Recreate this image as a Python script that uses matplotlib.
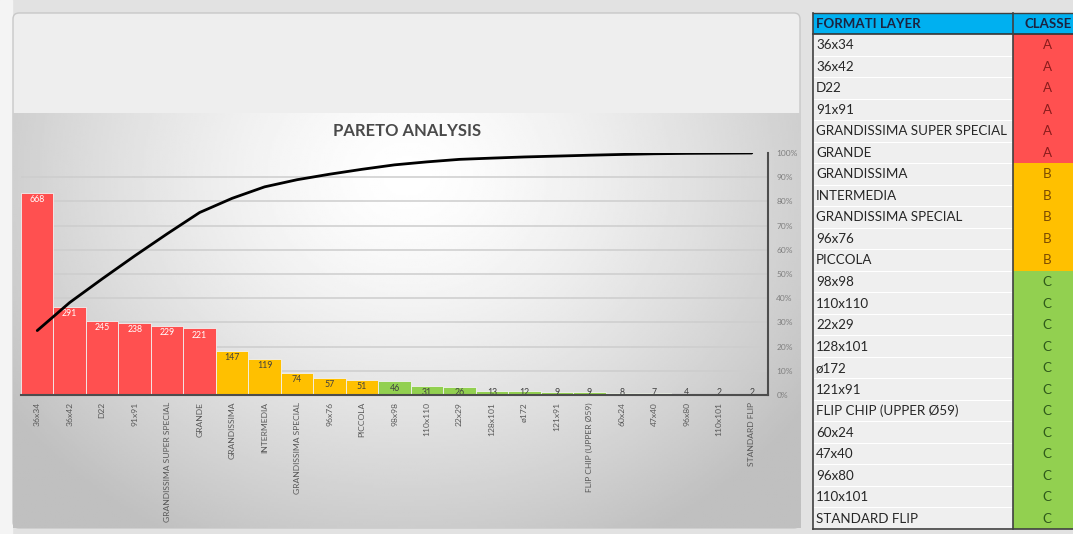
import numpy as np
import matplotlib
matplotlib.use("Agg")
import matplotlib.pyplot as plt
from matplotlib.patches import Rectangle, FancyBboxPatch

plt.rcParams['font.family'] = ['Lato', 'DejaVu Sans']

# ---- dati ----
formati = ["36x34", "36x42", "D22", "91x91", "GRANDISSIMA SUPER SPECIAL", "GRANDE",
           "GRANDISSIMA", "INTERMEDIA", "GRANDISSIMA SPECIAL", "96x76", "PICCOLA",
           "98x98", "110x110", "22x29", "128x101", "ø172", "121x91",
           "FLIP CHIP (UPPER Ø59)", "60x24", "47x40", "96x80", "110x101", "STANDARD FLIP"]
quantita = [668, 291, 245, 238, 229, 221, 147, 119, 74, 57, 51,
            46, 31, 26, 13, 12, 9, 9, 8, 7, 4, 2, 2]
classe = ["A", "A", "A", "A", "A", "A", "B", "B", "B", "B", "B",
          "C", "C", "C", "C", "C", "C", "C", "C", "C", "C", "C", "C"]

colori_classe = {"A": "#ff5050", "B": "#ffc000", "C": "#92d050"}
testo_classe = {"A": "#8a1c1c", "B": "#7a4a00", "C": "#2f5a1a"}
testo_barre = {"A": "white", "B": "#404040", "C": "#404040"}

W, H = 1073, 534

def px(x0, y0, x1, y1):
    return [x0 / W, 1 - y1 / H, (x1 - x0) / W, (y1 - y0) / H]

fig = plt.figure(figsize=(W / 100, H / 100), dpi=100, facecolor="#e2e2e2")

# sfondo generale (pannello + tabella) in coordinate pixel
bg = fig.add_axes([0, 0, 1, 1])
bg.set_xlim(0, W)
bg.set_ylim(H, 0)
bg.axis("off")
bg.add_patch(Rectangle((0, 0), 12, H, color="#f4f4f4", zorder=0))
bg.add_patch(FancyBboxPatch((13, 13), 787, 515, boxstyle="round,pad=0,rounding_size=6",
                            facecolor="#eeeeee", edgecolor="#c8c8c8", lw=1, zorder=1))

# ---- tabella classi ----
tx0, tx1, tx2 = 813, 1013, 1085
ty0, th_head = 13, 21
row_h = (529 - (ty0 + th_head)) / len(formati)
bg.add_patch(Rectangle((tx0, ty0), tx1 - tx0, th_head, facecolor="#00b0f0", edgecolor="none", zorder=2))
bg.add_patch(Rectangle((tx1, ty0), tx2 - tx1, th_head, facecolor="#00b0f0", edgecolor="none", zorder=2))
bg.text(tx0 + 3, ty0 + th_head / 2, "FORMATI LAYER", fontsize=9.5, fontweight="bold",
        color="#1c2340", va="center", ha="left", zorder=3)
bg.text(1048, ty0 + th_head / 2, "CLASSE", fontsize=9.5, fontweight="bold",
        color="#1c2340", va="center", ha="center", zorder=3)
for i, (nome, c) in enumerate(zip(formati, classe)):
    y = ty0 + th_head + i * row_h
    bg.add_patch(Rectangle((tx0, y), tx1 - tx0, row_h, facecolor="#efefef",
                           edgecolor="#ffffff", lw=0.8, zorder=2))
    bg.add_patch(Rectangle((tx1, y), tx2 - tx1, row_h, facecolor=colori_classe[c],
                           edgecolor="none", zorder=2))
    bg.text(tx0 + 3, y + row_h / 2 + 0.5, nome, fontsize=9.6, color="#262626",
            va="center", ha="left", zorder=3)
    bg.text(1047, y + row_h / 2 + 0.5, c, fontsize=9.6, color=testo_classe[c],
            va="center", ha="center", zorder=3)
bg.plot([tx0, tx2], [ty0 + th_head, ty0 + th_head], color="#333333", lw=1.2, zorder=4)
bg.plot([tx0, tx0], [ty0, 529], color="#404040", lw=1.2, zorder=4)
bg.plot([tx1, tx1], [ty0, 529], color="#404040", lw=1.2, zorder=4)
bg.plot([tx0, tx2], [529, 529], color="#404040", lw=1.2, zorder=4)
bg.plot([tx0, tx2], [ty0, ty0], color="#404040", lw=1.0, zorder=4)

# ---- area grafico con sfumatura ----
grad = fig.add_axes(px(13, 113, 800, 528))
gx, gy = np.meshgrid(np.linspace(0, 1, 400), np.linspace(0, 1, 200))
d = np.sqrt(((gx - 0.5) / 0.62) ** 2 + ((gy - 0.15) / 1.0) ** 2)
val = 1 - 0.25 * np.clip(d, 0, 1) ** 1.4
grad.imshow(val, cmap="gray", vmin=0, vmax=1, aspect="auto", extent=[0, 1, 1, 0])
grad.axis("off")

# ---- grafico di Pareto ----
ax = fig.add_axes(px(21, 153, 768, 395))
ax.patch.set_alpha(0)
x = np.arange(len(quantita))
cum = np.cumsum(quantita) / np.sum(quantita)

ax.set_xlim(-0.5, len(quantita) - 0.5)
ax.set_ylim(0, 800)
for g in range(1, 10):
    ax.axhline(g * 80, color="#cdcdcd", lw=1.1, zorder=0)

ax.bar(x, quantita, width=1.0, color=[colori_classe[c] for c in classe],
       edgecolor="#f2f2f2", lw=0.6, zorder=2)
for xi, v, c in zip(x, quantita, classe):
    ax.text(xi, max(v - 23, 9), str(v), fontsize=6.3, color=testo_barre[c],
            ha="center", va="center", zorder=3)

ax.set_xticks(x)
ax.set_xticklabels(formati, rotation=90, fontsize=6.1, color="#595959", va="top")
ax.tick_params(axis="x", length=0, pad=5)
ax.set_yticks([])
for s in ["top", "left", "right"]:
    ax.spines[s].set_visible(False)
ax.spines["bottom"].set_color("#4d4d4d")
ax.spines["bottom"].set_linewidth(1.5)
ax.spines["bottom"].set_zorder(5)

ax2 = ax.twinx()
ax2.plot(x, cum, color="black", lw=2, zorder=4, solid_capstyle="round")
ax2.set_ylim(0, 1)
ax2.set_yticks(np.linspace(0, 1, 11))
ax2.set_yticklabels([f"{int(round(t * 100))}%" for t in np.linspace(0, 1, 11)],
                    fontsize=6, color="#7f7f7f")
ax2.tick_params(axis="y", length=0, pad=6)
for s in ["top", "left", "bottom"]:
    ax2.spines[s].set_visible(False)
ax2.spines["right"].set_color("#4d4d4d")
ax2.spines["right"].set_linewidth(1.5)

fig.text(407 / W, 1 - 131 / H, "PARETO ANALYSIS", fontsize=12, fontweight="bold",
         color="#4a4a4a", ha="center", va="center")

fig.savefig("out.png", dpi=100, facecolor=fig.get_facecolor())
